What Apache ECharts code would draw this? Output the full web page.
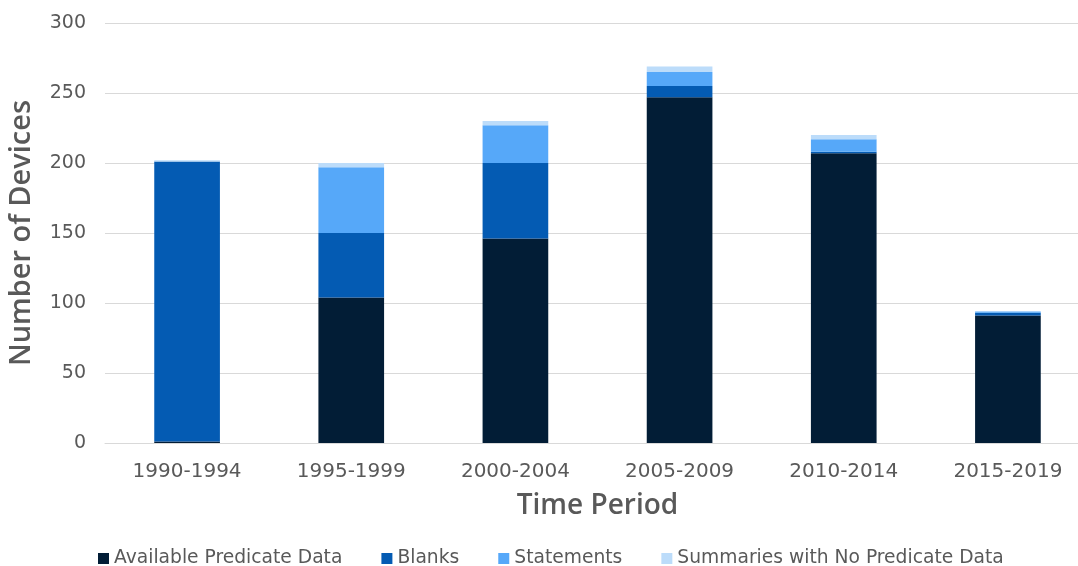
<!DOCTYPE html>
<html>
<head>
<meta charset="utf-8">
<script src="https://cdn.jsdelivr.net/npm/echarts@6/dist/echarts.min.js"></script>
<style>
  html, body { margin: 0; padding: 0; background: #fff; }
  #chart { width: 1078px; height: 566px; }
</style>
</head>
<body>
<div id="chart"></div>
<script>
// Device counts per five-year period, split by how the predicate was documented
const periods = ['1990-1994', '1995-1999', '2000-2004', '2005-2009', '2010-2014', '2015-2019'];
const availablePredicate = [1, 104, 146, 247, 207, 91];
const blanks = [200, 46, 54, 8, 1, 2];
const statements = [0, 47, 27, 10, 9, 1];
const summariesNoPredicate = [1, 3, 3, 4, 3, 0];
const yTicks = { min: 0, max: 300, step: 50 };

const seriesDefs = [
  { name: 'Available Predicate Data', data: availablePredicate, color: '#021d36' },
  { name: 'Blanks', data: blanks, color: '#045bb3' },
  { name: 'Statements', data: statements, color: '#56a8f9' },
  { name: 'Summaries with No Predicate Data', data: summariesNoPredicate, color: '#bcdcfa' }
];

const labelFont = '"DejaVu Sans", Verdana, sans-serif';
const titleFont = '"Open Sans", Lato, sans-serif';
const chart = echarts.init(document.getElementById('chart'), null, { renderer: 'canvas' });

chart.setOption({
  animation: false,
  backgroundColor: '#ffffff',
  grid: { left: 105, top: 23, width: 985, height: 420, containLabel: false, outerBoundsMode: 'none' },
  legend: {
    left: 98,
    top: 549,
    padding: 0,
    itemWidth: 11,
    itemHeight: 11,
    itemGap: 39,
    icon: 'rect',
    textStyle: { color: '#595959', fontSize: 18.7, fontFamily: labelFont, padding: [0, 0, 0, 0] },
    data: seriesDefs.map(s => s.name)
  },
  xAxis: {
    type: 'category',
    data: periods,
    name: 'Time Period',
    nameLocation: 'middle',
    nameGap: 49,
    nameTextStyle: { color: '#595959', fontSize: 28, fontWeight: 600, fontFamily: titleFont },
    axisLine: { show: true, lineStyle: { color: '#d9d9d9', width: 1 } },
    axisTick: { show: false },
    axisLabel: { color: '#595959', fontSize: 20, fontFamily: labelFont, margin: 19 }
  },
  yAxis: {
    type: 'value',
    min: yTicks.min,
    max: yTicks.max,
    interval: yTicks.step,
    name: 'Number of Devices',
    nameLocation: 'middle',
    nameGap: 69,
    nameTextStyle: { color: '#595959', fontSize: 29, fontWeight: 600, fontFamily: titleFont },
    axisLine: { show: false },
    axisTick: { show: false },
    axisLabel: { color: '#595959', fontSize: 19, fontFamily: labelFont, margin: 19 },
    splitLine: { show: true, lineStyle: { color: '#d9d9d9', width: 1 } }
  },
  series: seriesDefs.map(s => ({
    name: s.name,
    type: 'bar',
    stack: 'devices',
    data: s.data,
    barWidth: '40%',
    itemStyle: { color: s.color },
    emphasis: { disabled: true }
  }))
});
</script>
</body>
</html>
